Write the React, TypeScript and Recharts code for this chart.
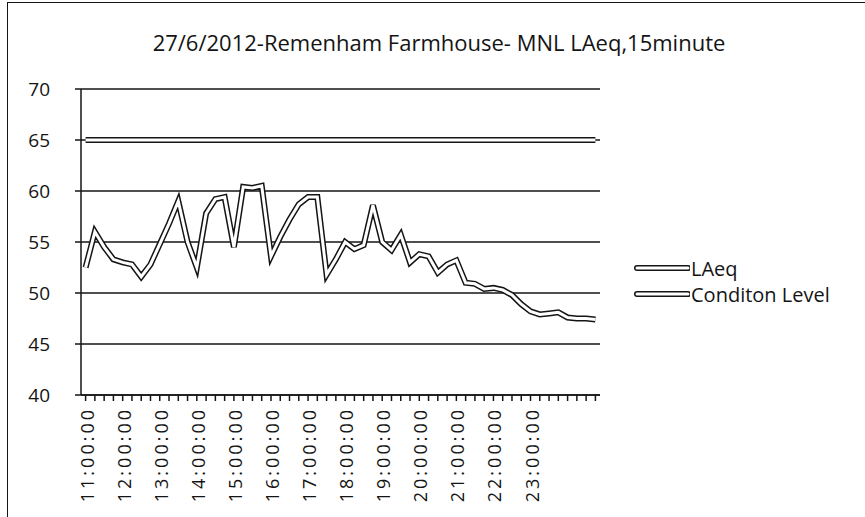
import React from 'react';
import { LineChart, Line, XAxis, YAxis, CartesianGrid, Legend } from 'recharts';

// 15 minute intervals, 27/6/2012
const times = [
  '11:00:00', '11:15:00', '11:30:00', '11:45:00',
  '12:00:00', '12:15:00', '12:30:00', '12:45:00',
  '13:00:00', '13:15:00', '13:30:00', '13:45:00',
  '14:00:00', '14:15:00', '14:30:00', '14:45:00',
  '15:00:00', '15:15:00', '15:30:00', '15:45:00',
  '16:00:00', '16:15:00', '16:30:00', '16:45:00',
  '17:00:00', '17:15:00', '17:30:00', '17:45:00',
  '18:00:00', '18:15:00', '18:30:00', '18:45:00',
  '19:00:00', '19:15:00', '19:30:00', '19:45:00',
  '20:00:00', '20:15:00', '20:30:00', '20:45:00',
  '21:00:00', '21:15:00', '21:30:00', '21:45:00',
  '22:00:00', '22:15:00', '22:30:00', '22:45:00',
  '23:00:00', '23:15:00', '23:30:00', '23:45:00',
  '00:00:00', '00:15:00', '00:30:00', '00:45:00',
];

// labels shown under the axis
const hourLabels = [
  '11:00:00', '12:00:00', '13:00:00', '14:00:00', '15:00:00', '16:00:00', '17:00:00',
  '18:00:00', '19:00:00', '20:00:00', '21:00:00', '22:00:00', '23:00:00',
];

const laeq = [
  52.5, 56.0, 54.5, 53.3, 53.0, 52.8, 51.6, 52.8, 54.8, 56.8,
  59.0, 55.0, 52.5, 57.8, 59.2, 59.4, 54.5, 60.4, 60.3, 60.5,
  53.6, 55.5, 57.2, 58.7, 59.4, 59.4, 51.8, 53.3, 55.0, 54.3,
  54.7, 58.6, 55.0, 54.2, 55.7, 53.0, 53.8, 53.6, 52.0, 52.8,
  53.2, 51.0, 50.9, 50.4, 50.5, 50.3, 49.8, 48.9, 48.2, 47.9,
  48.0, 48.1, 47.6, 47.5, 47.5, 47.4,
];

const conditionLevel = 65;

const yTicks = [40, 45, 50, 55, 60, 65, 70];
const seriesNames = ['LAeq', 'Conditon Level'];

const data = times.map((time, i) => ({ time, laeq: laeq[i], condition: conditionLevel }));

const FONT = '"Open Sans", "DejaVu Sans", sans-serif';
const INK = '#141414';

const TimeTick = (props: any) => {
  const { x, y, payload } = props;
  if (!hourLabels.includes(payload.value)) return <g />;
  return (
    <text
      x={x + 1}
      y={y + 4}
      transform={`rotate(-90, ${x + 1}, ${y + 4})`}
      textAnchor="end"
      dominantBaseline="central"
      fontFamily={FONT}
      fontSize={18}
      letterSpacing={3}
      fill={INK}
    >
      {payload.value}
    </text>
  );
};

const LegendBox = () => (
  <div style={{ fontFamily: FONT, fontSize: 20, color: INK }}>
    {seriesNames.map((name) => (
      <div key={name} style={{ display: 'flex', alignItems: 'center', height: 26 }}>
        <svg width={56} height={10}>
          <line x1={3} y1={5} x2={54} y2={5} stroke={INK} strokeWidth={6} strokeLinecap="round" />
          <line x1={3} y1={5} x2={54} y2={5} stroke="#fff" strokeWidth={3} strokeLinecap="round" />
        </svg>
        <span style={{ marginLeft: 1 }}>{name}</span>
      </div>
    ))}
  </div>
);

export default function App() {
  return (
    <div style={{ position: 'absolute', left: 0, top: 0, width: 865, height: 517, background: '#fff', overflow: 'hidden' }}>
      <div
        style={{
          position: 'absolute', left: 7, top: 2, width: 870, height: 530,
          borderLeft: `1.5px solid ${INK}`, borderTop: `1.5px solid ${INK}`,
        }}
      />
      <div
        style={{
          position: 'absolute', left: 0, top: 27, width: 878, textAlign: 'center',
          fontFamily: FONT, fontSize: 22, color: INK,
        }}
      >
        27/6/2012-Remenham Farmhouse- MNL LAeq,15minute
      </div>
      <div style={{ position: 'absolute', left: 0, top: 0 }}>
        <LineChart width={865} height={517} data={data} margin={{ top: 89, right: 265, bottom: 0, left: 0 }}>
          <CartesianGrid vertical={false} stroke={INK} strokeWidth={1.5} />
          <XAxis
            dataKey="time"
            interval={0}
            height={122}
            padding={{ left: 4.6, right: 4.6 }}
            axisLine={{ stroke: INK, strokeWidth: 1.5 }}
            tickLine={{ stroke: INK, strokeWidth: 1.5 }}
            tickSize={6}
            tick={<TimeTick />}
          />
          <YAxis
            domain={[40, 70]}
            ticks={yTicks}
            width={81}
            axisLine={{ stroke: INK, strokeWidth: 1.5 }}
            tickLine={{ stroke: INK, strokeWidth: 1.5 }}
            tickSize={6}
            tickMargin={25}
            tick={{ fontFamily: FONT, fontSize: 19, fill: INK }}
          />
          <Legend
            layout="vertical"
            align="center"
            verticalAlign="middle"
            wrapperStyle={{ left: 634, top: 255, width: 220 }}
            content={<LegendBox />}
          />
          <Line dataKey="condition" name="Conditon Level" stroke={INK} strokeWidth={6} dot={false} legendType="none" isAnimationActive={false} />
          <Line dataKey="condition" stroke="#fff" strokeWidth={3} dot={false} legendType="none" isAnimationActive={false} />
          <Line dataKey="laeq" name="LAeq" stroke={INK} strokeWidth={6} dot={false} legendType="none" isAnimationActive={false} />
          <Line dataKey="laeq" stroke="#fff" strokeWidth={3} dot={false} legendType="none" isAnimationActive={false} />
        </LineChart>
      </div>
    </div>
  );
}
